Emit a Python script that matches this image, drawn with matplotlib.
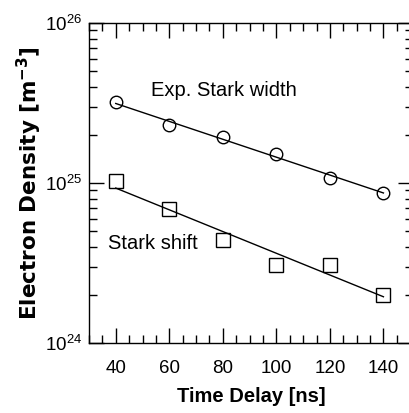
import numpy as np
import matplotlib
matplotlib.use("Agg")
import matplotlib.pyplot as plt
from matplotlib.ticker import MultipleLocator, LogLocator, NullFormatter

# dados
tempo = [40, 60, 80, 100, 120, 140]
largura = [3.2e25, 2.3e25, 1.93e25, 1.53e25, 1.08e25, 8.7e24]   # Exp. Stark width
desvio = [1.03e25, 6.9e24, 4.4e24, 3.1e24, 3.1e24, 2.0e24]      # Stark shift

plt.rcParams['font.family'] = ['Liberation Sans', 'DejaVu Sans']

fig = plt.figure(figsize=(4.1, 4.13), dpi=100)
ax = fig.add_axes([0.217, 0.169, 0.79, 0.775])

t = np.array(tempo)
for dados, marc, tam in [(largura, 'o', 9), (desvio, 's', 9.5)]:
    ax.plot(t, dados, linestyle='none', marker=marc, markersize=tam,
            markerfacecolor='none', markeredgecolor='black', markeredgewidth=1.0)
    coef = np.polyfit(t, np.log10(dados), 1)
    ax.plot(t, 10 ** np.polyval(coef, t), color='black', linewidth=1.0)

ax.set_yscale('log')
ax.set_xlim(30, 151)
ax.set_ylim(1e24, 1e26)
ax.xaxis.set_major_locator(MultipleLocator(20))
ax.xaxis.set_minor_locator(MultipleLocator(5))
ax.yaxis.set_major_locator(LogLocator(base=10))
ax.yaxis.set_minor_locator(LogLocator(base=10, subs=np.arange(2, 10)))
ax.yaxis.set_minor_formatter(NullFormatter())
ax.set_xticks([40, 60, 80, 100, 120, 140])

ax.tick_params(which='both', direction='in', top=True, right=True, labelsize=13.5)
ax.tick_params(axis='x', pad=12)
ax.tick_params(axis='y', pad=5)
ax.tick_params(which='major', length=11, width=1.0)
ax.tick_params(which='minor', length=6, width=1.0)
for s in ax.spines.values():
    s.set_linewidth(1.0)

ax.text(53, 3.8e25, 'Exp. Stark width', fontsize=14.5, va='center', ha='left')
ax.text(37, 4.2e24, 'Stark shift', fontsize=14.5, va='center', ha='left')

ax.set_xlabel('Time Delay [ns]', fontsize=14.5, fontweight='bold', labelpad=7)
ax.set_ylabel('Electron Density [m$^{\\mathbf{-3}}$]', fontsize=15.5, fontweight='bold',
              family=['DejaVu Sans'])
ax.yaxis.set_label_coords(-0.14, 0.5)

fig.savefig('out.png', dpi=100)
